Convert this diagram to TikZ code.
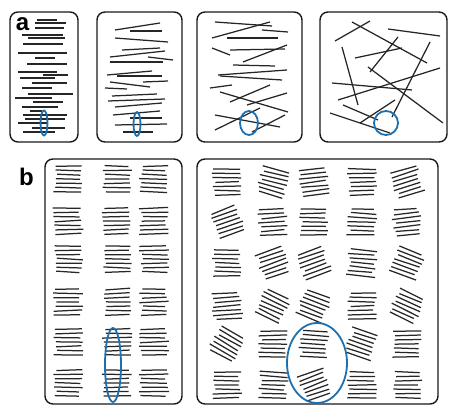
\documentclass[tikz,border=0pt]{standalone}
\usepackage{fontspec}
\setmainfont{Liberation Sans}
\definecolor{ringblue}{RGB}{28,112,176}
\tikzset{
  seg/.style={line width=1.25pt, draw=black!85},
  panel/.style={line width=1.4pt, draw=black!90, rounded corners=8pt},
  ring/.style={line width=1.8pt, draw=ringblue},
  lbl/.style={font=\fontsize{24}{24}\selectfont\bfseries, inner sep=0pt}
}
\newcommand\stk[4]{%
  \begin{scope}[shift={(#1,#2)},rotate=#3]
    \foreach \i in {1,...,#4}{
      \pgfmathsetmacro\yy{(\i-(#4+1)/2)*4.3}
      \pgfmathsetmacro\xl{-13+2.2*rand}
      \pgfmathsetmacro\xr{13+2.2*rand}
      \pgfmathsetmacro\dy{0.6*rand}
      \draw[seg] (\xl,\yy-\dy) -- (\xr,\yy+\dy);
    }
  \end{scope}}
\begin{document}
\begin{tikzpicture}[x=1pt,y=-1pt]
\pgfmathsetseed{7}
\useasboundingbox (0,0) rectangle (450,406);
% panels
\draw[panel] (10,12) rectangle (78,142);
\draw[panel] (97,12) rectangle (182,142);
\draw[panel] (197,12) rectangle (302,142);
\draw[panel] (320,12) rectangle (447,142);
\draw[panel] (45,159) rectangle (182,404);
\draw[panel] (197,159) rectangle (438,404);
\node[lbl] (la) at (22.5,24) {a};
\node[lbl] (lb) at (26.5,177) {b};
% panel a1
\foreach \y/\a/\b in {20/37/57, 23/35/66, 28/35/64, 35/22/63, 38/28/65, 44/23/63, 53/18/67,
  58/35/55, 64/27/67, 72/18/57, 75/43/68, 78/20/55, 83/32/67, 88/22/52, 94/28/73, 98/15/52,
  102/33/63, 107/22/58, 111/30/42, 115/23/67, 119/25/65, 123/18/48, 128/32/65, 132/23/55}
  \draw[seg] (\a,\y) -- (\b,\y);
% panel a2
\foreach \p/\q in {{115,30}/{160,23}, {130,31}/{162,31}, {115,38}/{168,42}, {122,50}/{160,48},
  {110,57}/{165,51}, {148,57}/{173,60}, {110,62}/{163,62}, {107,75}/{152,71}, {117,76}/{162,76},
  {143,82}/{168,81}, {110,82}/{150,87}, {105,88}/{127,89}, {112,96}/{157,94}, {108,101}/{165,99},
  {115,107}/{162,103}, {113,115}/{160,111}, {130,118}/{162,118}, {115,125}/{167,124}, {123,132}/{153,132}}
  \draw[seg] (\p) -- (\q);
% panel a3
\foreach \p/\q in {{215,22}/{272,26}, {212,38}/{270,22}, {262,30}/{288,32}, {227,38}/{278,38},
  {212,48}/{230,55}, {230,50}/{285,49}, {243,62}/{287,45}, {233,65}/{275,66}, {218,75}/{287,70},
  {220,76}/{282,80}, {210,88}/{232,85}, {220,92}/{288,112}, {230,102}/{270,85}, {247,105}/{287,93},
  {215,115}/{280,127}, {215,130}/{260,108}, {252,132}/{285,115}}
  \draw[seg] (\p) -- (\q);
% panel a4
\foreach \p/\q in {{335,41}/{370,21}, {352,22}/{427,63}, {388,29}/{440,36}, {342,47}/{358,105},
  {355,58}/{402,48}, {398,37}/{370,72}, {430,42}/{392,117}, {368,67}/{443,123}, {332,83}/{412,90},
  {338,100}/{440,68}, {343,105}/{378,120}, {330,113}/{390,133}, {360,123}/{395,100}}
  \draw[seg] (\p) -- (\q);
% panel b1
\foreach \cy in {179,221,259,302,342,383}{
  \foreach \cx in {68,117,154}{
    \pgfmathsetmacro\ang{1.5*rand}
    \stk{\cx}{\cy}{\ang}{7}
  }
}
% panel b2
\foreach \cy/\r in {182/{0,-15,6,0,18}, 222/{20,4,0,-2,6}, 263/{0,20,20,-5,-20},
  306/{5,-25,-22,0,-25}, 344/{-30,0,-3,-20,0}, 385/{0,-3,20,0,0}}{
  \foreach \cx [count=\k] in {227,273,314,362,407}{
    \pgfmathsetmacro\ang{{\r}[\k-1]}
    \stk{\cx}{\cy}{\ang}{7}
  }
}
% rings
\draw[ring] (44,123) ellipse [x radius=3.5, y radius=12.5];
\draw[ring] (137,124) ellipse [x radius=3.5, y radius=12];
\draw[ring] (249,123) ellipse [x radius=9, y radius=12];
\draw[ring] (386,123) circle [radius=12];
\draw[ring] (113,365) ellipse [x radius=8, y radius=37];
\draw[ring] (317,363) ellipse [x radius=30, y radius=40];
\end{tikzpicture}
\end{document}
